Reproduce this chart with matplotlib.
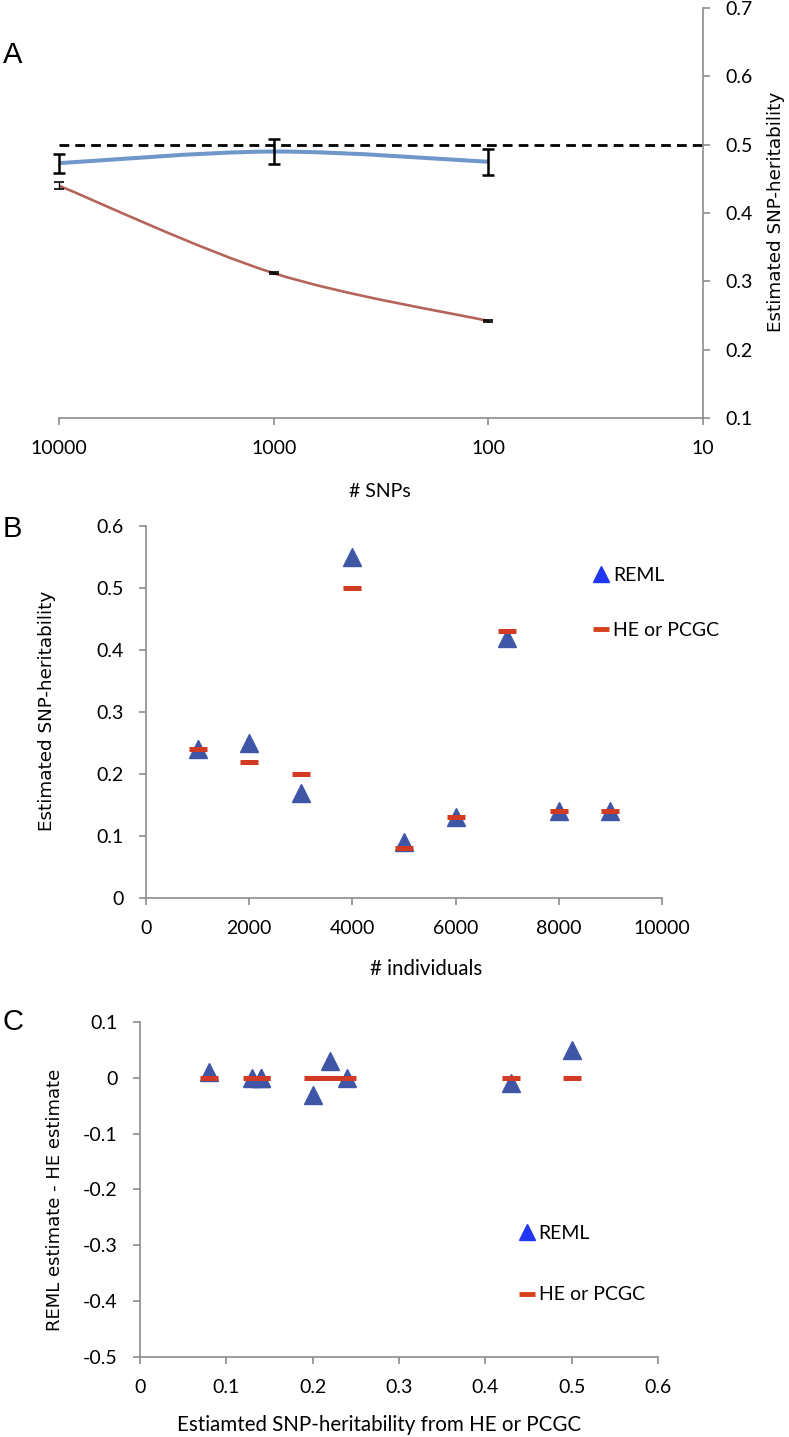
import numpy as np
import matplotlib
matplotlib.use("Agg")
import matplotlib.pyplot as plt
from matplotlib.path import Path
from matplotlib.patches import PathPatch
from matplotlib.lines import Line2D
from matplotlib.ticker import FuncFormatter

plt.rcParams["axes.unicode_minus"] = False

NARROW = ["Lato", "DejaVu Sans"]

# panel A: estimate vs number of SNPs
snps = [10000, 1000, 100]
reml_a = [0.473, 0.490, 0.475]
reml_a_lo = [0.458, 0.472, 0.455]
reml_a_hi = [0.487, 0.508, 0.493]
he_a = [0.440, 0.312, 0.242]
he_a_lo = [0.435, 0.311, 0.241]
he_a_hi = [0.446, 0.313, 0.243]
true_h2 = 0.5

# panel B: estimate vs number of individuals
individuals = [1000, 2000, 3000, 4000, 5000, 6000, 7000, 8000, 9000]
reml_b = [0.24, 0.25, 0.17, 0.55, 0.09, 0.13, 0.42, 0.14, 0.14]
he_b = [0.24, 0.22, 0.20, 0.50, 0.08, 0.13, 0.43, 0.14, 0.14]

# panel C: REML - HE against HE estimate
he_c = [0.24, 0.22, 0.20, 0.50, 0.08, 0.13, 0.43, 0.14, 0.14]
diff_c = [0.00, 0.03, -0.03, 0.05, 0.01, 0.00, -0.01, 0.00, 0.00]
zero_c = [0, 0, 0, 0, 0, 0, 0, 0, 0]

TRI = "#3f56a6"
DASH = "#d23a24"
GREY = "#8c8c8c"
TICK_SIZE = 14
LAB_SIZE = 14.8
YLAB_SIZE = 13.2


def smooth_path(xs, ys):
    # excel-style smoothed line, bezier segments in log10(x) space
    pts = np.column_stack([np.log10(xs), ys])
    verts = [pts[0]]
    codes = [Path.MOVETO]
    n = len(pts)
    for i in range(n - 1):
        p0 = pts[i - 1] if i > 0 else pts[i]
        p1, p2 = pts[i], pts[i + 1]
        p3 = pts[i + 2] if i + 2 < n else p2
        verts += [p1 + (p2 - p0) / 6, p2 - (p3 - p1) / 6, p2]
        codes += [Path.CURVE4] * 3
    verts = np.array(verts)
    verts[:, 0] = 10 ** verts[:, 0]
    return Path(verts, codes)


def style_axes(ax, side="left"):
    for s in ax.spines.values():
        s.set_visible(False)
    ax.spines["bottom"].set_visible(True)
    ax.spines[side].set_visible(True)
    for s in ("bottom", side):
        ax.spines[s].set_color(GREY)
        ax.spines[s].set_linewidth(1.2)
    ax.tick_params(direction="out", length=5, width=1.2, color=GREY,
                   labelsize=TICK_SIZE, pad=11)
    for lab in ax.get_xticklabels() + ax.get_yticklabels():
        lab.set_family(NARROW)


fmt = FuncFormatter(lambda v, p: "0" if abs(v) < 1e-9 else f"{v:.1f}")

fig = plt.figure(figsize=(7.89, 14.37), dpi=100)

# ---------------- A ----------------
ax = fig.add_axes([0.0748, 0.7091, 0.8162, 0.2853])
ax.set_xscale("log")
ax.set_xlim(10000, 10)
ax.set_ylim(0.1, 0.7)
ax.yaxis.tick_right()
ax.yaxis.set_label_position("right")
ax.set_xticks([10000, 1000, 100, 10])
ax.set_xticklabels(["10000", "1000", "100", "10"])
ax.xaxis.set_minor_locator(plt.NullLocator())
ax.set_yticks(np.arange(0.1, 0.71, 0.1))
ax.yaxis.set_major_formatter(fmt)
style_axes(ax, "right")

ax.axhline(true_h2, color="black", lw=2, ls=(0, (3.5, 2.2)), zorder=1)
ax.add_patch(PathPatch(smooth_path(snps, reml_a), fill=False,
                       edgecolor="#7097c9", lw=2.9, zorder=2))
ax.add_patch(PathPatch(smooth_path(snps, he_a), fill=False,
                       edgecolor="#b5645a", lw=1.9, zorder=2))
eb = ax.errorbar(snps, reml_a,
                 yerr=[np.subtract(reml_a, reml_a_lo), np.subtract(reml_a_hi, reml_a)],
                 fmt="none", ecolor="black", elinewidth=1.8, capsize=4,
                 capthick=1.8, zorder=3)
eb2 = ax.errorbar(snps, he_a,
                  yerr=[np.subtract(he_a, he_a_lo), np.subtract(he_a_hi, he_a)],
                  fmt="none", ecolor="black", elinewidth=1.0, capsize=3.5,
                  capthick=1.2, zorder=3)
for container in (eb, eb2):
    for art in container.lines[1] + container.lines[2]:
        art.set_clip_on(False)

ax.set_xlabel("# SNPs", fontsize=14, family=NARROW)
ax.xaxis.set_label_coords(0.498, -0.18)
ax.xaxis.label.set_va("center")
ax.set_ylabel("Estimated SNP-heritability", fontsize=YLAB_SIZE,
              family="DejaVu Sans")
ax.yaxis.set_label_coords(1.113, 0.502)
ax.yaxis.label.set_va("center")
fig.text(0.016, 0.962, "A", fontsize=21, family="Liberation Sans",
         ha="center", va="center")


def legend(ax, anchor, spacing):
    h = [Line2D([], [], ls="none", marker="^", ms=11, color="#2036f0"),
         Line2D([], [], ls="none", marker="_", ms=11, mew=3.5, color="#d8401c")]
    leg = ax.legend(h, ["REML", "HE or PCGC"], loc="upper left",
                    bbox_to_anchor=anchor, frameon=False, handlelength=0.7,
                    handletextpad=0.25, labelspacing=spacing,
                    prop={"family": NARROW, "size": 14})
    return leg


# ---------------- B ----------------
ax = fig.add_axes([0.1850, 0.3751, 0.6540, 0.2589])
ax.set_xlim(0, 10000)
ax.set_ylim(0, 0.6)
ax.set_xticks(np.arange(0, 10001, 2000))
ax.set_yticks(np.arange(0, 0.61, 0.1))
ax.yaxis.set_major_formatter(fmt)
style_axes(ax, "left")
ax.plot(individuals, reml_b, ls="none", marker="^", ms=13.5, color=TRI, zorder=3)
ax.plot(individuals, he_b, ls="none", marker="_", ms=13.5, mew=3.6,
        color=DASH, zorder=4)
ax.set_xlabel("# individuals", fontsize=LAB_SIZE, family=NARROW)
ax.xaxis.set_label_coords(0.543, -0.191)
ax.xaxis.label.set_va("center")
ax.set_ylabel("Estimated SNP-heritability", fontsize=YLAB_SIZE,
              family="DejaVu Sans")
ax.yaxis.set_label_coords(-0.192, 0.503)
ax.yaxis.label.set_va("center")
legend(ax, (0.835, 0.937), 1.95)
fig.text(0.016, 0.632, "B", fontsize=21, family="Liberation Sans",
         ha="center", va="center")

# ---------------- C ----------------
ax = fig.add_axes([0.1774, 0.0557, 0.6565, 0.2331])
ax.set_xlim(0, 0.6)
ax.set_ylim(-0.5, 0.1)
ax.set_xticks(np.arange(0, 0.61, 0.1))
ax.set_yticks(np.arange(-0.5, 0.11, 0.1))
ax.xaxis.set_major_formatter(fmt)
ax.yaxis.set_major_formatter(fmt)
style_axes(ax, "left")
ax.plot(he_c, diff_c, ls="none", marker="^", ms=13.5, color=TRI, zorder=3)
ax.plot(he_c, zero_c, ls="none", marker="_", ms=13.5, mew=3.6,
        color=DASH, zorder=4)
ax.set_xlabel("Estiamted SNP-heritability from HE or PCGC", fontsize=LAB_SIZE,
              family=NARROW)
ax.xaxis.set_label_coords(0.461, -0.203)
ax.xaxis.label.set_va("center")
ax.set_ylabel("REML estimate - HE estimate", fontsize=13, family="DejaVu Sans")
ax.yaxis.set_label_coords(-0.164, 0.469)
ax.yaxis.label.set_va("center")
legend(ax, (0.70, 0.447), 2.3)
fig.text(0.016, 0.289, "C", fontsize=21, family="Liberation Sans",
         ha="center", va="center")

fig.savefig("out.png", dpi=100)
